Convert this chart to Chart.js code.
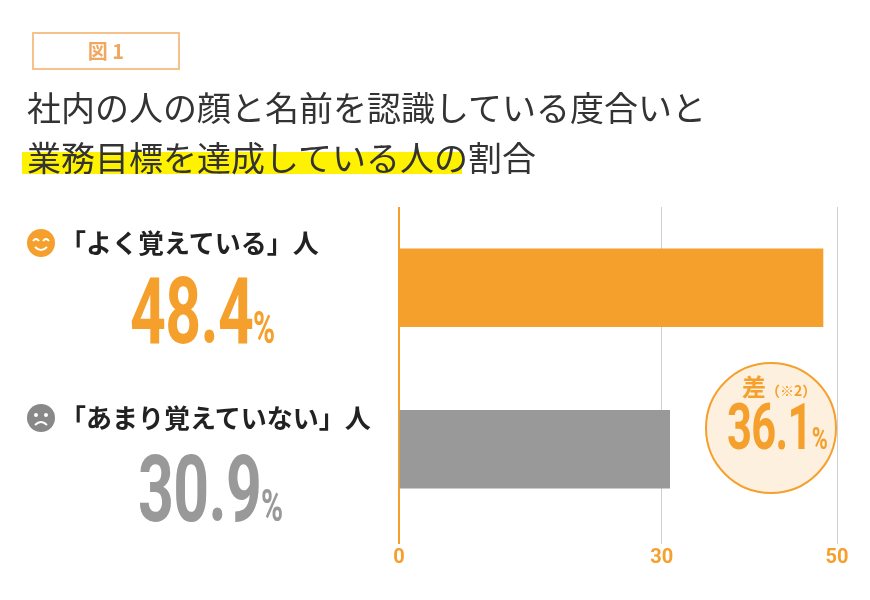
<!DOCTYPE html>
<html><head><meta charset="utf-8">
<script src="https://cdn.jsdelivr.net/npm/chart.js@4/dist/chart.umd.min.js"></script>
<style>
body{margin:0;width:870px;height:600px;background:#fff;position:relative;overflow:hidden;font-family:"Noto Sans CJK JP",sans-serif;}
.abs{position:absolute;white-space:nowrap}
#c{position:absolute;left:0;top:0}
.num{font-family:"Roboto",sans-serif;font-weight:bold;transform:scaleX(0.68);transform-origin:0 0;letter-spacing:-1px}
</style></head><body>
<canvas id="c" width="870" height="600"></canvas>
<div class="abs" style="left:32px;top:32px;width:144px;height:34px;border:2px solid #f5c28a;color:#f0a860;font-size:20px;font-weight:bold;text-align:center;line-height:34px">図 1</div>
<div class="abs" style="left:22px;top:152px;width:440px;height:22px;background:#fff200"></div>
<div class="abs" style="left:27px;top:82px;font-size:34px;color:#333;line-height:50px">社内の人の顔と名前を認識している度合いと<br>業務目標を達成している人の割合</div>

<svg class="abs" style="left:26px;top:228px" width="30" height="30"><circle cx="15" cy="15" r="14" fill="#f5a02d"/><path d="M7 13 q3 -4 6 0 M17 13 q3 -4 6 0" stroke="#fff" stroke-width="2" fill="none"/><path d="M9 19 q6 6 12 0" stroke="#fff" stroke-width="2" fill="none"/></svg>
<div class="abs" style="left:60px;top:223px;font-size:26px;font-weight:bold;color:#222">「よく覚えている」人</div>
<div class="abs num" style="left:130px;top:258px;font-size:92px;color:#f5a02d">48.4<span style="font-size:44px">%</span></div>

<svg class="abs" style="left:26px;top:403px" width="30" height="30"><circle cx="15" cy="15" r="14" fill="#888"/><circle cx="10" cy="12" r="2" fill="#fff"/><circle cx="20" cy="12" r="2" fill="#fff"/><path d="M9 22 q6 -6 12 0" stroke="#fff" stroke-width="2" fill="none"/></svg>
<div class="abs" style="left:60px;top:398px;font-size:26px;font-weight:bold;color:#222">「あまり覚えていない」人</div>
<div class="abs num" style="left:138px;top:436px;font-size:92px;color:#999">30.9<span style="font-size:44px">%</span></div>

<div class="abs" style="left:705px;top:362px;width:128px;height:128px;border-radius:50%;background:#fdf0de;border:2px solid #f5a02d"></div>
<div class="abs" style="left:742px;top:368px;font-size:24px;font-weight:bold;color:#f5a02d">差<span style="font-size:14px">（※2）</span></div>
<div class="abs num" style="left:727px;top:390px;font-size:64px;color:#f5a02d">36.1<span style="font-size:32px">%</span></div>
<script>
const categories=["よく覚えている","あまり覚えていない"];
const values=[48.4,30.9];
const barColors=["#f5a02d","#999999"];
const tickValues=[0,30,50];
new Chart(document.getElementById('c'),{
 type:'bar',
 data:{labels:categories,datasets:[{data:values,backgroundColor:barColors,barThickness:78}]},
 options:{indexAxis:'y',responsive:false,animation:false,
  layout:{padding:{left:399,right:33,top:207,bottom:28}},
  plugins:{legend:{display:false},tooltip:{enabled:false}},
  scales:{
   y:{display:false},
   x:{min:0,max:50,
    afterBuildTicks:s=>{s.ticks=tickValues.map(v=>({value:v}));},
    border:{display:false},
    grid:{color:c=>c.tick&&c.tick.value===0?'#f5a02d':'#d0d0d0',lineWidth:c=>c.tick&&c.tick.value===0?2:1,drawTicks:true,tickLength:14},
    ticks:{color:'#f5a02d',font:{family:'Roboto',size:20,weight:'bold'},padding:2}
   }}
 }});
</script>
</body></html>
